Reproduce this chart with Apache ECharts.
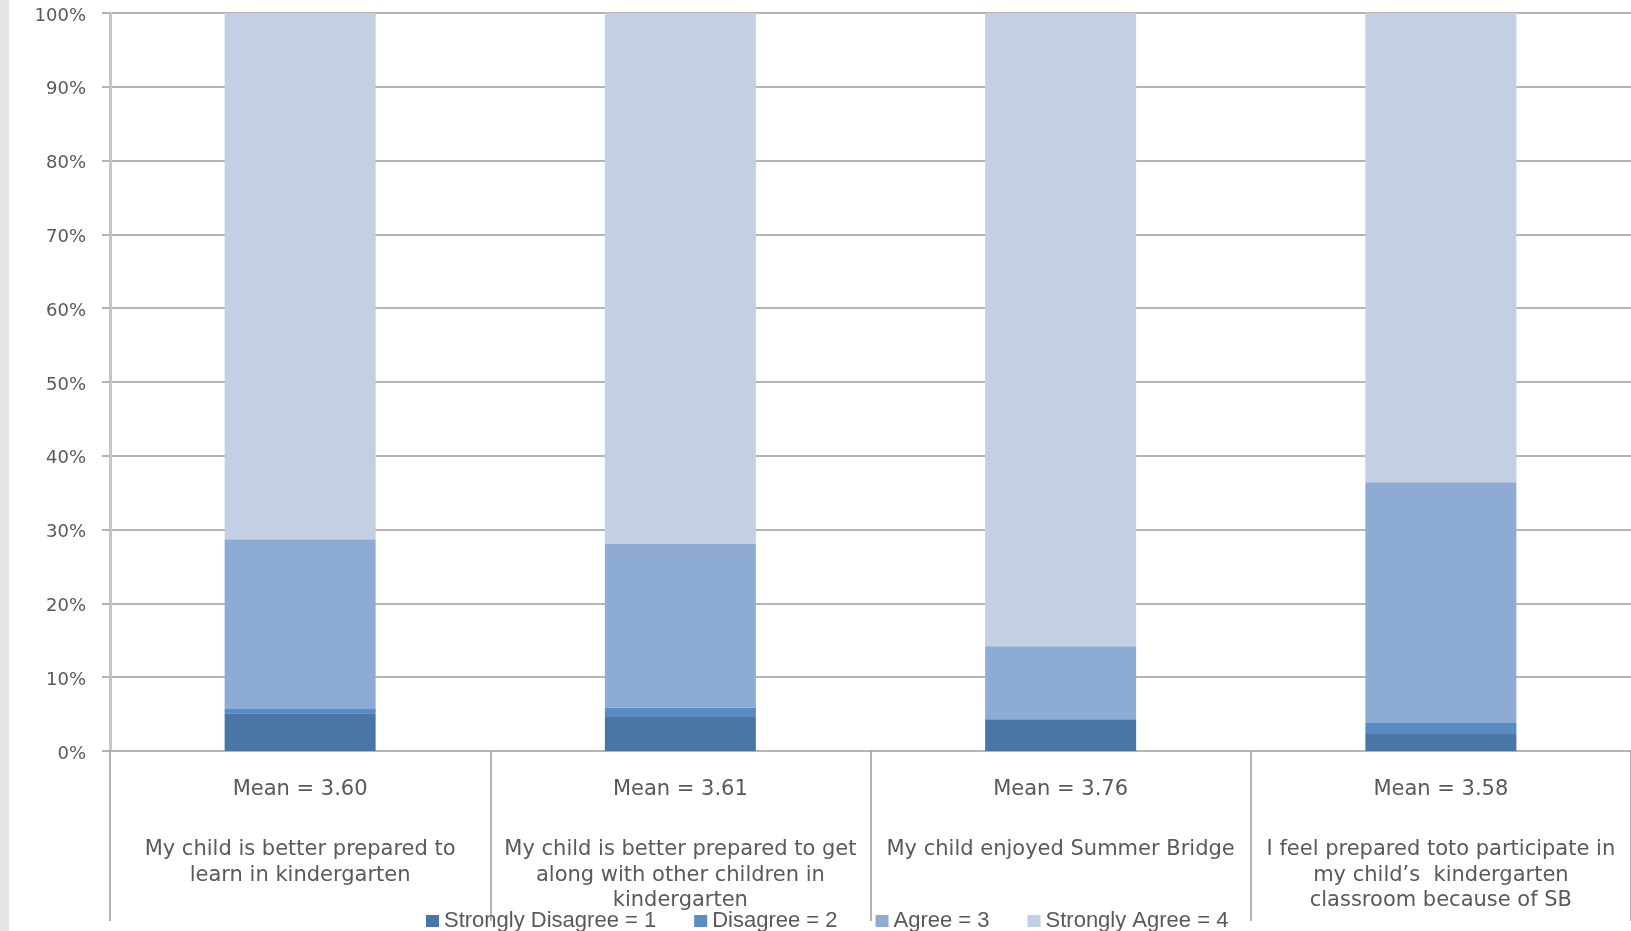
<!DOCTYPE html>
<html>
<head>
<meta charset="utf-8">
<title>Summer Bridge parent survey</title>
<script src="https://cdn.jsdelivr.net/npm/echarts@6/dist/echarts.min.js"></script>
<style>
  html, body { margin: 0; padding: 0; background: #ffffff; }
  #chart { width: 1631px; height: 931px; }
</style>
</head>
<body>
<div id="chart"></div>
<script>
// Survey statements (already broken into display lines)
const statements = [
  "My child is better prepared to\nlearn in kindergarten",
  "My child is better prepared to get\nalong with other children in\nkindergarten",
  "My child enjoyed Summer Bridge",
  "I feel prepared toto participate in\nmy child\u2019s  kindergarten\nclassroom because of SB"
];
const meanLabels = ["Mean = 3.60", "Mean = 3.61", "Mean = 3.76", "Mean = 3.58"];

// Share of responses (%) per answer
const stronglyDisagree = [5.1, 4.6, 4.3, 2.3];
const disagree         = [0.7, 1.3, 0.0, 1.5];
const agree            = [22.9, 22.2, 9.9, 32.6];
const stronglyAgree    = [71.3, 71.9, 85.8, 63.6];

const seriesNames = ["Strongly Disagree = 1", "Disagree = 2", "Agree = 3", "Strongly Agree = 4"];
const seriesColors = ["#4a76a6", "#5a8bc5", "#8eabd4", "#c3cfe3"];
const seriesValues = [stronglyDisagree, disagree, agree, stronglyAgree];

const chart = echarts.init(document.getElementById('chart'));

const labelFont = 'DejaVu Sans';

const option = {
  animation: false,
  backgroundColor: '#ffffff',
  graphic: [{
    type: 'rect',
    left: 0, top: 0,
    shape: { width: 9, height: 931 },
    style: { fill: '#e6e6e6' },
    silent: true
  }],
  grid: { left: 110, top: 13, width: 1525, height: 738, containLabel: false },
  legend: {
    left: 426,
    top: 910,
    padding: 0,
    itemGap: 38,
    itemWidth: 13,
    itemHeight: 12,
    icon: 'rect',
    textStyle: {
      fontFamily: 'Liberation Sans',
      fontSize: 22,
      color: '#595959'
    },
    data: seriesNames
  },
  xAxis: {
    type: 'category',
    data: statements,
    axisLine: { show: true, lineStyle: { color: '#b4b4b4', width: 2 } },
    axisTick: {
      show: true,
      interval: 0,
      alignWithLabel: false,
      length: 170,
      lineStyle: { color: '#9a9a9a', width: 1.5 }
    },
    axisLabel: {
      interval: 0,
      margin: 26,
      color: '#595959',
      fontFamily: labelFont,
      formatter: function (value, idx) {
        const body = value.split('\n').map(function (l) { return '{t|' + l + '}'; }).join('\n');
        return '{m|' + meanLabels[idx] + '}\n{g| }\n' + body;
      },
      rich: {
        m: { fontFamily: labelFont, fontSize: 21, lineHeight: 26, color: '#595959' },
        g: { fontFamily: labelFont, fontSize: 10, lineHeight: 34 },
        t: { fontFamily: labelFont, fontSize: 21, lineHeight: 25.5, color: '#595959' }
      }
    },
    splitLine: { show: false }
  },
  yAxis: {
    type: 'value',
    min: 0,
    max: 100,
    interval: 10,
    axisLine: { show: true, lineStyle: { color: '#c6c6c6', width: 3 } },
    axisTick: { show: true, length: 8, lineStyle: { color: '#b4b4b4', width: 2 } },
    axisLabel: {
      formatter: '{value}%',
      margin: 24,
      fontFamily: labelFont,
      fontSize: 18,
      color: '#595959',
      verticalAlign: 'top',
      lineHeight: 6
    },
    splitLine: { show: true, lineStyle: { color: '#b4b4b4', width: 2 } }
  },
  series: seriesNames.map(function (name, i) {
    return {
      name: name,
      type: 'bar',
      stack: 'total',
      barWidth: 151,
      itemStyle: { color: seriesColors[i] },
      data: seriesValues[i]
    };
  })
};

chart.setOption(option);
</script>
</body>
</html>
